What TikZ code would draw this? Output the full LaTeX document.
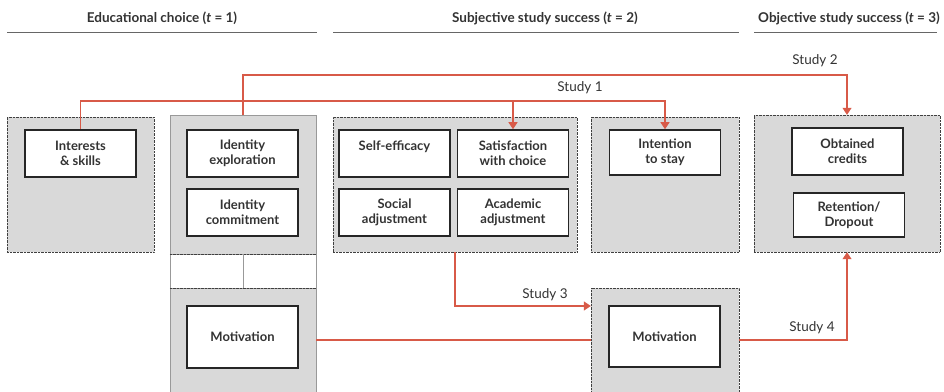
\documentclass[tikz,border=0pt]{standalone}
\usepackage{fontspec}
\setmainfont{Lato}
\usepackage{xcolor}
\usetikzlibrary{arrows.meta}
\definecolor{StudyRed}{HTML}{D85A48}
\definecolor{GroupGray}{HTML}{D9D9D9}
\definecolor{TextGray}{HTML}{333333}

\begin{document}
\begin{tikzpicture}[x=1pt, y=-1pt,
  font=\fontsize{13.5}{15}\selectfont, text=TextGray,
  group/.style={rectangle, fill=GroupGray, draw=black!75, densely dotted, inner sep=0pt},
  solidgroup/.style={rectangle, fill=GroupGray, draw=black!40, inner sep=0pt},
  varbox/.style={rectangle, fill=white, draw=black!85, line width=1.6pt, minimum width=111pt,
    minimum height=47pt, align=center, inner sep=0pt, font=\fontsize{13}{15}\selectfont\bfseries},
  study/.style={draw=StudyRed, line width=1.1pt, -{Triangle[length=7pt,width=9pt]}},
  studylabel/.style={inner sep=0pt},
  header/.style={inner sep=0pt, font=\fontsize{13.5}{15}\selectfont\bfseries},
  rule/.style={draw=black!60, line width=0.9pt}]
\useasboundingbox (0,0) rectangle (944,391);
%
% headers
\node[header] (h1) at (162,18) {Educational choice (\textit{t} = 1)};
\node[header] (h2) at (545,18) {Subjective study success (\textit{t} = 2)};
\node[header] (h3) at (849,18) {Objective study success (\textit{t} = 3)};
\draw[rule] (7,32) -- (317,32);
\draw[rule] (333,32) -- (739,32);
\draw[rule] (754,32) -- (937,32);
%
% groups
\node[group, minimum width=147pt, minimum height=135pt] (choicegrp) at (80.5,184.5) {};
\node[solidgroup, minimum width=146pt, minimum height=139pt] (idgrp) at (243,184.5) {};
\node[solidgroup, minimum width=146pt, minimum height=104pt] (motgrpL) at (243,340) {};
\draw[black!40] (idgrp.south west) -- (motgrpL.north west);
\draw[black!40] (idgrp.south east) -- (motgrpL.north east);
\draw[black!75, densely dotted] (idgrp.south west) -- (idgrp.south east);
\draw[black!75, densely dotted] (motgrpL.north west) -- (motgrpL.north east);
\draw[black!40] (idgrp.south) -- (motgrpL.north);
\node[group, minimum width=244pt, minimum height=135pt] (subjgrp) at (455,184.5) {};
\node[group, minimum width=148pt, minimum height=135pt] (staygrp) at (665,184.5) {};
\node[group, minimum width=186pt, minimum height=137pt] (objgrp) at (847,183.5) {};
\node[group, minimum width=148pt, minimum height=104pt] (motgrpR) at (665,340) {};
%
% variables
\node[varbox] (interests) at (80.5,153.5) {Interests\\ \& skills};
\node[varbox] (idexpl) at (242.5,153.5) {Identity\\ exploration};
\node[varbox] (idcomm) at (242.5,212.5) {Identity\\ commitment};
\node[varbox] (selfeff) at (394.5,153.5) {Self-efficacy\\ \mbox{}};
\node[varbox] (satisf) at (513,153.5) {Satisfaction\\ with choice};
\node[varbox] (social) at (394.5,212.5) {Social\\ adjustment};
\node[varbox] (academic) at (513,212.5) {Academic\\ adjustment};
\node[varbox, minimum height=45pt] (intent) at (665,152.5) {Intention\\ to stay};
\node[varbox] (credits) at (847.5,151.5) {Obtained\\ credits};
\node[varbox, minimum height=44pt] (retention) at (849,215) {Retention/\\ Dropout};
\node[varbox, minimum height=62pt] (motL) at (242.5,337) {Motivation};
\node[varbox, minimum height=61pt] (motR) at (664.5,336.5) {Motivation};
%
% studies
\coordinate (s1) at (0,101);
\coordinate (s2) at (0,75);
\draw[study] (interests.north) -- (interests.north |- s1) -| (intent.north);
\draw[study] (satisf.north |- s1) -- (satisf.north);
\draw[study] (idgrp.north) -- (idgrp.north |- s2) -| (objgrp.north);
\draw[study] (subjgrp.south) |- ([yshift=34pt]motgrpR.west);
\draw[study, -] (motgrpL.east) -- (motgrpR.west);
\draw[study] (motgrpR.east) -| (objgrp.south);
\node[studylabel] (lab1) at (580,88) {Study 1};
\node[studylabel] (lab2) at (815,61) {Study 2};
\node[studylabel] (lab3) at (545,295) {Study 3};
\node[studylabel] (lab4) at (812,328) {Study 4};
\end{tikzpicture}
\end{document}
